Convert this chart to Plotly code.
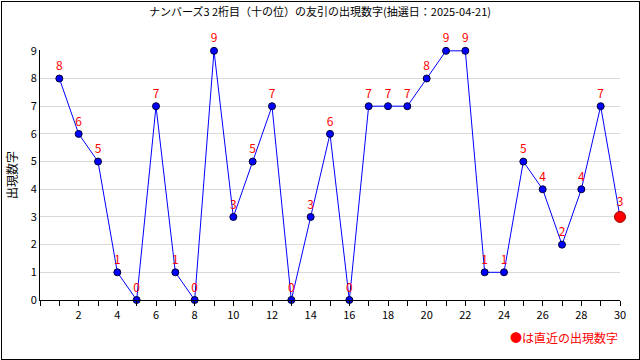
import plotly.graph_objects as go

draws = list(range(1, 31))
values = [8, 6, 5, 1, 0, 7, 1, 0, 9, 3, 5, 7, 0, 3, 6, 0, 7, 7, 7, 8, 9, 9, 1, 1, 5, 4, 2, 4, 7, 3]
x_tick_labels = list(range(2, 31, 2))
title_text = "ナンバーズ3 2桁目（十の位）の友引の出現数字(抽選日：2025-04-21)"
y_title = "出現数字"
note_text = "●は直近の出現数字"

W, H = 640, 360
ml, mr, mt, mb = 40, 20, 50, 60
pw, ph = W - ml - mr, H - mt - mb

font_family = "Noto Sans CJK JP, DejaVu Sans, sans-serif"

fig = go.Figure()
fig.add_trace(go.Scatter(
    x=draws, y=values,
    mode="lines",
    line=dict(color="#0000ff", width=1),
    hoverinfo="skip", showlegend=False, cliponaxis=False,
))
fig.add_trace(go.Scatter(
    x=draws[:-1], y=values[:-1],
    mode="markers+text",
    marker=dict(color="#0000ff", size=7, line=dict(color="#000033", width=1)),
    text=[str(v) for v in values[:-1]],
    textposition="top center",
    textfont=dict(color="#ff0000", size=12, family=font_family),
    showlegend=False, cliponaxis=False,
))
fig.add_trace(go.Scatter(
    x=[draws[-1]], y=[values[-1]],
    mode="markers+text",
    marker=dict(color="#ff0000", size=11, line=dict(color="#990000", width=1)),
    text=[str(values[-1])],
    textposition="top center",
    textfont=dict(color="#ff0000", size=12, family=font_family),
    showlegend=False, cliponaxis=False,
))

fig.update_layout(
    width=W, height=H,
    margin=dict(l=ml, r=mr, t=mt, b=mb, autoexpand=False),
    paper_bgcolor="white", plot_bgcolor="white",
    font=dict(family=font_family, size=11, color="#000000"),
    title=dict(text=title_text, x=0.5, xanchor="center", y=1 - 12 / H, yanchor="middle",
               font=dict(size=11, color="#000000", family=font_family)),
    xaxis=dict(range=[0, 30], tickmode="array", tickvals=x_tick_labels,
               ticktext=[str(v) for v in x_tick_labels],
               showgrid=False, zeroline=False, automargin=False,
               showline=True, linecolor="#000000", linewidth=1,
               ticks="outside", ticklen=5, tickcolor="#000000",
               minor=dict(tickmode="linear", tick0=0, dtick=1, ticks="outside", ticklen=5,
                          tickcolor="#000000", showgrid=False),
               tickfont=dict(size=11)),
    yaxis=dict(range=[0, 9.03], tickmode="linear", tick0=0, dtick=1,
               showgrid=True, gridcolor="#d9d9d9", gridwidth=1, zeroline=False,
               showline=True, linecolor="#000000", linewidth=1, automargin=False,
               ticks="", tickfont=dict(size=11),
               title=dict(text=y_title, font=dict(size=12), standoff=10)),
    annotations=[
        dict(text=note_text, xref="paper", yref="paper",
             x=1, y=-37 / ph, xanchor="right", yanchor="middle",
             showarrow=False, font=dict(color="#ff0000", size=12, family=font_family)),
        dict(text="", xref="paper", yref="paper",
             x=(W / 2 - ml) / pw, y=(H / 2 - mb) / ph, xanchor="center", yanchor="middle",
             width=W - 3, height=H - 3, borderpad=0, borderwidth=1,
             bordercolor="#000000", showarrow=False),
    ],
)

fig.write_html("out.html", config={"displayModeBar": False},
               post_script="document.body.style.margin='0';")
